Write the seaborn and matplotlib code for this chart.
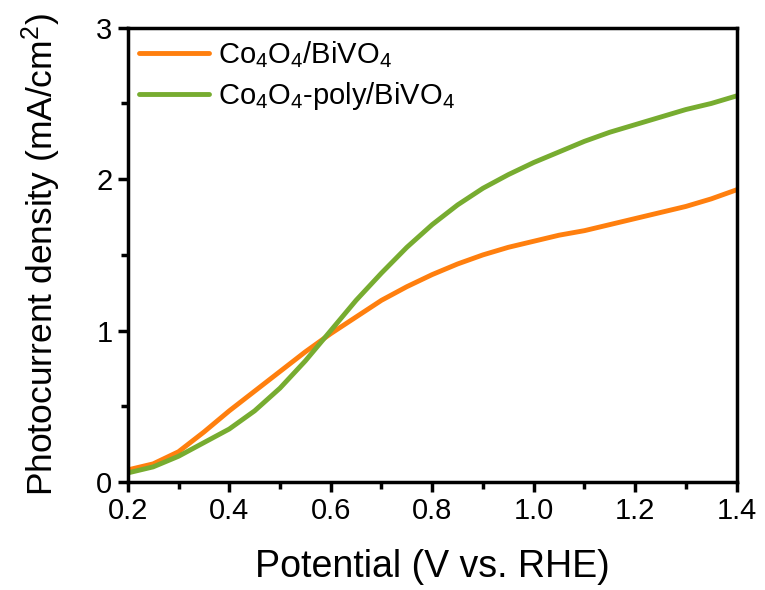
import matplotlib
matplotlib.use("Agg")
import matplotlib.pyplot as plt
import seaborn as sns
import pandas as pd
from matplotlib.ticker import MultipleLocator

# potential (V vs. RHE)
potential = [0.20, 0.25, 0.30, 0.35, 0.40, 0.45, 0.50, 0.55, 0.60, 0.65, 0.70, 0.75, 0.80,
             0.85, 0.90, 0.95, 1.00, 1.05, 1.10, 1.15, 1.20, 1.25, 1.30, 1.35, 1.40]

# photocurrent density (mA/cm2)
co4o4_bivo4 = [0.08, 0.12, 0.20, 0.33, 0.47, 0.60, 0.73, 0.86, 0.98, 1.09, 1.20, 1.29, 1.37,
               1.44, 1.50, 1.55, 1.59, 1.63, 1.66, 1.70, 1.74, 1.78, 1.82, 1.87, 1.93]
co4o4_poly_bivo4 = [0.06, 0.10, 0.17, 0.26, 0.35, 0.47, 0.62, 0.80, 1.00, 1.20, 1.38, 1.55, 1.70,
                    1.83, 1.94, 2.03, 2.11, 2.18, 2.25, 2.31, 2.36, 2.41, 2.46, 2.50, 2.55]

labels = [r"Co$_4$O$_4$/BiVO$_4$", r"Co$_4$O$_4$-poly/BiVO$_4$"]
colors = ["#FF7F0E", "#77AC30"]

df = pd.DataFrame({
    "Potential": potential * 2,
    "J": co4o4_bivo4 + co4o4_poly_bivo4,
    "Sample": [labels[0]] * len(potential) + [labels[1]] * len(potential),
})

sns.set_style("ticks")
plt.rcParams["font.family"] = ["Liberation Sans", "DejaVu Sans"]
plt.rcParams["mathtext.fontset"] = "custom"
plt.rcParams["mathtext.rm"] = "Liberation Sans"
plt.rcParams["mathtext.it"] = "Liberation Sans"
plt.rcParams["mathtext.default"] = "regular"
plt.rcParams["text.color"] = "black"
plt.rcParams["axes.labelcolor"] = "black"

fig, ax = plt.subplots(figsize=(7.65, 5.9), dpi=100)
fig.subplots_adjust(left=0.167, right=0.963, top=0.953, bottom=0.183)

sns.lineplot(data=df, x="Potential", y="J", hue="Sample", palette=colors,
             linewidth=3.5, ax=ax)

ax.set_xlim(0.2, 1.4)
ax.set_ylim(0, 3)
ax.xaxis.set_major_locator(MultipleLocator(0.2))
ax.xaxis.set_minor_locator(MultipleLocator(0.1))
ax.yaxis.set_major_locator(MultipleLocator(1))
ax.yaxis.set_minor_locator(MultipleLocator(0.5))
ax.set_xticklabels([f"{v:.1f}" for v in ax.get_xticks()])

ax.tick_params(which="major", direction="out", length=7, width=2.5, labelsize=21,
               colors="black", pad=4)
ax.tick_params(which="minor", direction="out", length=5, width=2.5, colors="black")
for s in ax.spines.values():
    s.set_linewidth(2.5)
    s.set_color("black")

ax.set_xlabel("Potential (V vs. RHE)", fontsize=27, labelpad=17)
ax.set_ylabel(r"Photocurrent density (mA/cm$^2$)", fontsize=25.5, labelpad=24)

ax.legend(title=None, frameon=False, loc="upper left", fontsize=21,
          handlelength=2.4, handletextpad=0.3, borderaxespad=0.0,
          labelspacing=0.35)

fig.savefig("out.png", dpi=100)
